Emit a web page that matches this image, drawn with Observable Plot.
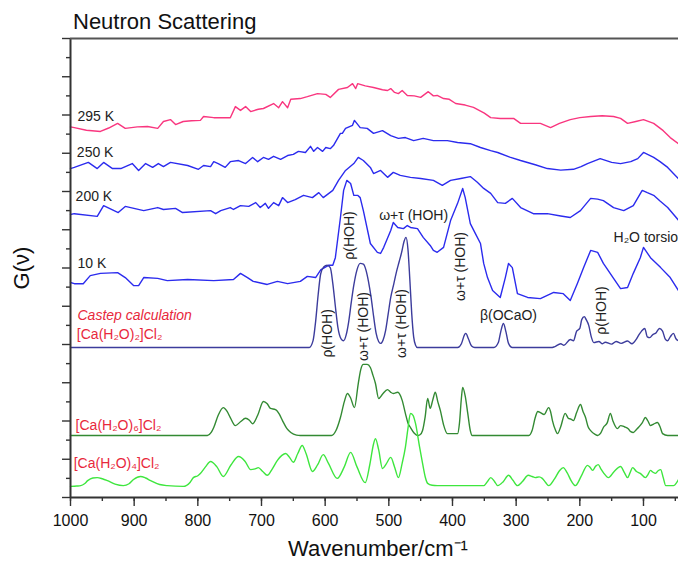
<!DOCTYPE html>
<html>
<head>
<meta charset="utf-8">
<script src="https://cdn.jsdelivr.net/npm/d3@7"></script>
<script src="https://cdn.jsdelivr.net/npm/@observablehq/plot@0.6"></script>
<style>
  body { margin: 0; background: #fff; font-family: "Liberation Sans", Arial, sans-serif; }
  #wrap { position: relative; width: 678px; height: 563px; overflow: hidden; }
  #title { position: absolute; left: 73px; top: 11px; font-size: 22px; line-height: 22px; color: #111; white-space: nowrap; }
  #xlabel { position: absolute; left: 228px; width: 300px; top: 538px; font-size: 22px; line-height: 22px; text-align: center; color: #111; white-space: nowrap; }
  #ylabel { position: absolute; left: -18px; top: 256px; width: 80px; height: 24px; line-height: 24px; font-size: 22px; text-align: center; color: #111; transform: rotate(-90deg); white-space: nowrap; }
</style>
</head>
<body>
<div id="wrap">
  <div id="chart"></div>
  <div id="title">Neutron Scattering</div>
  <div id="xlabel">Wavenumber/cm⁻¹</div>
  <div id="ylabel">G(ν)</div>
</div>
<script>
// ---- data: [wavenumber (cm-1), G(nu) in arbitrary stacked units] ----
const k295 = [[1000,96.9],[994,96.7],[975,96.0],[953,95.7],[940,96.6],[926,97.8],[914,96.5],[895,96.9],[879,97.0],[863,96.5],[854,98.3],[843,98.8],[835,97.5],[823,98.3],[810,98.5],[796,98.6],[791,99.6],[775,99.3],[749,99.3],[741,102.2],[733,101.2],[725,102.2],[717,100.9],[705,101.5],[697,101.7],[681,103.0],[673,101.9],[667,103.5],[659,101.9],[654,104.1],[639,104.3],[628,104.8],[612,105.6],[599,105.4],[592,104.6],[579,106.7],[565,107.2],[557,108.2],[552,106.9],[549,108.2],[537,107.6],[524,107.2],[510,106.6],[502,106.4],[497,106.9],[491,105.9],[485,105.6],[479,106.4],[471,105.1],[460,105.0],[450,104.6],[438,106.1],[430,105.0],[424,105.1],[414,104.3],[405,104.1],[395,103.0],[380,102.6],[367,102.0],[350,100.5],[340,99.3],[325,99.1],[304,99.1],[293,97.8],[262,97.8],[246,96.7],[232,97.8],[215,98.8],[200,99.3],[183,99.6],[165,99.8],[147,99.6],[136,99.1],[125,97.8],[112,98.3],[100,98.8],[84,97.8],[69,95.9],[58,94.1],[45,92.5]];

const k250 = [[1000,86.0],[994,86.3],[972,87.6],[958,86.0],[948,87.6],[934,86.0],[921,86.0],[903,87.3],[893,85.5],[882,87.3],[871,86.3],[862,87.3],[854,86.5],[843,87.6],[816,86.8],[799,85.8],[791,86.8],[780,86.5],[775,87.8],[768,87.3],[757,86.3],[749,87.8],[736,88.1],[725,87.3],[714,88.9],[706,87.8],[697,88.9],[689,88.4],[681,89.2],[670,88.4],[659,89.4],[650,89.7],[642,90.5],[631,90.2],[623,91.8],[618,90.5],[612,91.5],[604,90.5],[599,91.5],[592,91.2],[587,92.0],[576,95.2],[573,95.2],[568,96.5],[557,97.3],[554,98.6],[545,96.7],[534,96.5],[524,95.2],[510,95.9],[497,94.6],[485,93.9],[474,94.1],[461,93.3],[446,93.9],[430,93.3],[408,93.3],[392,92.8],[372,92.5],[356,91.5],[340,90.7],[329,90.2],[310,89.0],[293,88.1],[270,87.0],[251,86.0],[230,85.6],[210,85.8],[198,86.5],[188,87.3],[168,88.6],[150,87.6],[136,87.3],[120,87.8],[109,88.6],[100,90.2],[92,89.6],[84,88.9],[74,87.8],[62,86.3],[45,83.3]];

const k200 = [[1000,74.0],[994,74.2],[958,73.5],[948,76.3],[925,74.5],[914,76.1],[885,75.0],[863,75.8],[854,75.3],[835,75.6],[824,74.5],[780,75.0],[772,74.2],[764,75.0],[749,75.8],[744,75.3],[733,76.3],[720,76.1],[709,77.1],[702,75.8],[694,76.9],[689,75.6],[681,77.1],[673,76.3],[667,78.4],[659,77.1],[647,77.9],[634,79.0],[620,78.4],[610,79.7],[603,78.4],[588,80.3],[579,82.9],[568,85.5],[555,87.3],[548,88.9],[540,88.1],[529,86.3],[524,84.7],[513,85.5],[502,83.7],[493,85.0],[482,84.2],[466,83.7],[450,83.4],[430,82.9],[416,81.6],[403,82.9],[387,83.4],[372,83.9],[361,82.4],[351,80.8],[340,79.5],[329,77.1],[317,76.9],[306,78.2],[293,75.8],[273,74.2],[251,74.2],[230,73.6],[215,73.2],[199,75.0],[183,78.2],[172,78.0],[163,77.6],[147,75.8],[131,75.0],[116,76.3],[102,80.3],[94,79.7],[84,79.0],[74,77.5],[62,75.8],[45,72.5]];

const k10 = [[1000,56.2],[994,55.9],[980,55.9],[969,58.0],[953,58.6],[926,58.8],[914,57.5],[901,55.4],[893,55.4],[885,57.5],[863,57.3],[848,56.7],[816,57.0],[775,56.7],[744,57.0],[733,58.6],[722,57.5],[713,56.5],[691,55.7],[675,56.5],[659,55.9],[639,56.5],[628,57.8],[615,57.5],[607,59.5],[595,60.7],[588,60.7],[584,62.7],[576,73.2],[571,80.3],[566,82.9],[560,82.1],[555,79.0],[549,79.0],[545,78.4],[540,75.0],[529,66.4],[518,64.1],[513,63.8],[508,65.4],[497,69.8],[493,71.9],[486,70.6],[477,70.3],[471,71.1],[466,70.6],[455,70.3],[446,68.0],[435,65.9],[430,64.6],[424,64.1],[414,65.4],[403,72.4],[392,76.9],[384,80.8],[380,78.4],[372,71.6],[364,69.0],[356,66.4],[351,61.2],[345,57.5],[337,54.1],[325,52.3],[317,57.5],[312,61.2],[306,60.1],[298,53.3],[282,52.3],[262,52.0],[241,53.6],[226,53.3],[215,51.5],[204,55.9],[194,60.1],[183,64.6],[172,64.1],[163,61.2],[147,57.3],[136,54.6],[125,54.9],[116,58.6],[105,62.7],[100,65.4],[89,62.7],[73,60.1],[58,57.5],[45,54.1]];

const calc2 = [[1000,39.2],[625,39.2],[619,41],[615,46],[611,53],[607,58.5],[602,60.3],[597,60.7],[592,60.1],[588,56],[584,50],[580,44.5],[575,41.5],[571,41.0],[567,42.5],[563,46],[559,51],[555,55.5],[550,59.5],[545,61.2],[540,61],[536,59.5],[532,56.5],[528,52.5],[524,47.5],[520,43],[516,40.8],[513,40.3],[509,41.2],[505,43.7],[501,48],[497,52.3],[492,56],[488,59],[484,61.5],[480,64],[476,67],[473,68],[470,65],[467,57],[464,48],[461,42],[458,39.8],[455,39.2],[392,39.2],[386,40.2],[381,42.6],[379,42.9],[375,41.5],[370,39.6],[365,39.2],[335,39.2],[328,40.5],[324,43.5],[320,45.5],[316,43.3],[312,40.3],[306,39.2],[245,39.2],[240,39.4],[230,40.2],[225,39.8],[215,41.3],[210,41],[205,43.5],[200,44.2],[197,46.5],[193,47.3],[190,46.5],[186,45],[182,42],[178,40.5],[170,40.8],[165,40.2],[160,40.6],[150,40.1],[143,40.8],[135,40.3],[125,40.9],[118,40.2],[112,41.2],[107,42.6],[103,43.5],[98,44.2],[94,42],[90,41.8],[86,42.5],[80,43.1],[75,44.2],[70,43.5],[66,41.5],[62,41],[58,42],[53,42.9],[49,41.5],[45,41]];

const calc6 = [[1000,16.2],[785,16.2],[779,17],[775,18.3],[768,21.5],[760,23.5],[754,22.5],[749,20.9],[741,18.8],[733,19.8],[725,20.7],[719,20.2],[714,19.3],[706,21.5],[697,25.1],[691,24.5],[686,23.3],[678,23.0],[672,21.8],[667,20.1],[660,18],[654,17.0],[645,16.3],[639,16.2],[590,16.2],[583,17.5],[576,20.9],[570,25],[565,27.2],[560,26],[554,23.5],[548,29.8],[544,33.5],[540,34.8],[534,34.8],[529,34.0],[525,32],[521,29.8],[516,25.9],[510,27],[502,28.2],[497,27.5],[493,27.2],[486,27.5],[479,25.4],[474,22],[470,19.5],[466,18.3],[460,16.8],[455,16.2],[451,16.4],[447,17.5],[443,21],[439,25.9],[435,23.3],[431,25.5],[427,27.5],[423,25],[419,22.7],[414,19],[408,16.7],[392,16.7],[389,19.5],[386,26],[384,28.8],[380,26.5],[376,22.0],[372,17.5],[369,16.2],[280,16.2],[275,17.5],[270,20.9],[266,22.5],[262,22.2],[256,21.7],[249,23.5],[246,22.5],[243,20.1],[238,17.5],[235,16.7],[230,18.5],[223,22.0],[218,20.7],[214,20.5],[210,20.1],[205,22.2],[199,24.3],[195,22.5],[191,20.9],[187,18.5],[183,17.5],[176,16.5],[172,16.2],[167,16.9],[163,18.3],[157,19.5],[152,22.0],[148,20],[141,18.0],[136,18.8],[130,18.5],[124,18.0],[120,17.2],[116,17.0],[111,17.8],[108,18.3],[102,19.5],[97,20.9],[93,20],[89,18.8],[84,19.2],[78,19.6],[74,18.5],[70,16.7],[62,16.2],[45,16.2]];

const calc4 = [[1000,2.9],[990,3],[984,3.1],[978,3.6],[973,4.4],[965,5.1],[958,5.2],[950,4.9],[942,4.4],[930,3.5],[917,3.1],[908,3.6],[901,4.7],[890,5.5],[882,5.1],[874,4.4],[860,3.4],[848,3.1],[823,2.9],[812,4],[807,5.2],[800,5.7],[796,6.3],[788,8],[780,9.4],[770,8],[760,5.5],[748,8.5],[736,10.7],[726,9.5],[717,7.3],[710,7.5],[705,7.8],[698,6.8],[691,5.8],[683,7.5],[675,9.7],[668,11],[662,11.5],[656,10.5],[650,9.2],[643,11.5],[636,13.6],[630,11.5],[620,6.8],[612,8.5],[603,11.2],[595,9],[581,5.0],[570,8],[560,11.8],[550,8],[537,3.9],[530,8.5],[524,14],[521,15.4],[516,12.5],[510,7.6],[504,8.8],[497,10.5],[491,8],[485,5.2],[479,9],[474,13.1],[470,18],[466,22.0],[462,21.5],[458,19.3],[452,13.5],[447,8.9],[443,5.5],[439,3.7],[432,3.2],[424,3.1],[351,3.1],[345,4.2],[340,5.2],[334,4.2],[329,3.1],[320,4.2],[312,5.8],[305,4.5],[298,3.1],[290,4.2],[281,5.8],[275,5.5],[270,5.2],[264,5.4],[259,5.0],[254,4],[249,3.1],[240,4.8],[232,7],[226,7.8],[220,6.5],[213,4.2],[207,3.1],[198,5.5],[188,8.4],[184,7.9],[180,7.1],[175,8.2],[171,8.6],[167,7.5],[163,6.5],[155,5.2],[146,6.8],[136,8.1],[130,6.5],[125,5.2],[121,6.5],[117,7.8],[111,6.8],[105,6.3],[97,5.2],[93,6],[89,7.1],[85,6.6],[81,6.3],[77,7],[73,7.3],[69,5.2],[65,3.1],[53,3.1],[45,4.7]];

// labels for curves: [text, wavenumber, value]
const tempLabels = [["295 K", 989, 99.5], ["250 K", 990, 90.3], ["200 K", 992, 78.6], ["10 K", 989, 61.3]];
const castepLabel = [["Castep calculation", 989, 47.6]];
const formulaLabels = [["[Ca(H₂O)₂]Cl₂", 990, 42.6], ["[Ca(H₂O)₆]Cl₂", 992, 18.7], ["[Ca(H₂O)₄]Cl₂", 995, 8.8]];
// band assignments: [text, wavenumber, value, rotation]
const bandLabels = [
  ["ρ(HOH)", 596, 42.9, -90],
  ["ρ(HOH)", 562, 68.5, -90],
  ["ω+τ (HOH)", 540, 44.7, -90],
  ["ω+τ (HOH)", 480, 45.5, -90],
  ["ω+τ (HOH)", 387, 60.4, -90],
  ["ω+τ (HOH)", 461, 73.7, 0],
  ["β(OCaO)", 312, 47.7, 0],
  ["ρ(HOH)", 166, 48.9, -90]
];
const torsionLabel = [["H₂O torsio", 147, 68.1]];

const majorX = d3.range(100, 1001, 100);
const minorX = d3.range(50, 1001, 50);
const majorY = d3.range(0, 121, 10);
const minorY = d3.range(5, 120, 10);

const series = [
  {data: k295, color: "#f9367f", curve: "linear"},
  {data: k250, color: "#2b2bee", curve: "linear"},
  {data: k200, color: "#2b2bee", curve: "linear"},
  {data: k10, color: "#2b2bee", curve: "linear"},
  {data: calc2, color: "#3c3c9c", curve: "monotone-x"},
  {data: calc6, color: "#338a33", curve: "monotone-x"},
  {data: calc4, color: "#3ee63e", curve: "monotone-x"}
];

const axisColor = "#333";
const labelRed = "#e8283c";
const chart = Plot.plot({
  width: 678,
  height: 563,
  marginLeft: 70,
  marginRight: 0,
  marginTop: 38,
  marginBottom: 66,
  style: {fontFamily: "'Liberation Sans', Arial, sans-serif", background: "white", overflow: "visible", color: "#222"},
  x: {domain: [1000, 45]},
  y: {domain: [0, 120]},
  marks: [
    ...series.map(s => Plot.line(s.data, {x: d => d[0], y: d => d[1], stroke: s.color, strokeWidth: 1.4, curve: s.curve})),
    Plot.axisX({ticks: minorX, tickSize: 4, tickFormat: () => "", label: null, stroke: axisColor, strokeWidth: 1.4}),
    Plot.axisX({ticks: majorX, tickSize: 9, tickPadding: 8, tickFormat: d3.format("d"), fontSize: 16, label: null, stroke: axisColor, strokeWidth: 1.4, fill: "#111"}),
    Plot.axisY({ticks: minorY, tickSize: 4, tickFormat: () => "", label: null, stroke: axisColor, strokeWidth: 1.4}),
    Plot.axisY({ticks: majorY, tickSize: 8, tickFormat: () => "", label: null, stroke: axisColor, strokeWidth: 1.4}),
    Plot.ruleX([1000], {stroke: axisColor, strokeWidth: 2}),
    Plot.ruleY([0], {stroke: axisColor, strokeWidth: 2}),
    Plot.ruleY([120], {stroke: "#555", strokeWidth: 2}),
    Plot.text(tempLabels, {x: d => d[1], y: d => d[2], text: d => d[0], textAnchor: "start", fontSize: 14, fill: "#222"}),
    Plot.text(castepLabel, {x: d => d[1], y: d => d[2], text: d => d[0], textAnchor: "start", fontSize: 14, fill: labelRed, fontStyle: "italic"}),
    Plot.text(formulaLabels, {x: d => d[1], y: d => d[2], text: d => d[0], textAnchor: "start", fontSize: 14, fill: labelRed}),
    Plot.text(bandLabels, {x: d => d[1], y: d => d[2], text: d => d[0], rotate: d => d[3], textAnchor: "middle", fontSize: 14, fill: "#222"}),
    Plot.text(torsionLabel, {x: d => d[1], y: d => d[2], text: d => d[0], textAnchor: "start", fontSize: 14, fill: "#222"})
  ]
});
document.getElementById("chart").appendChild(chart);
</script>
</body>
</html>
